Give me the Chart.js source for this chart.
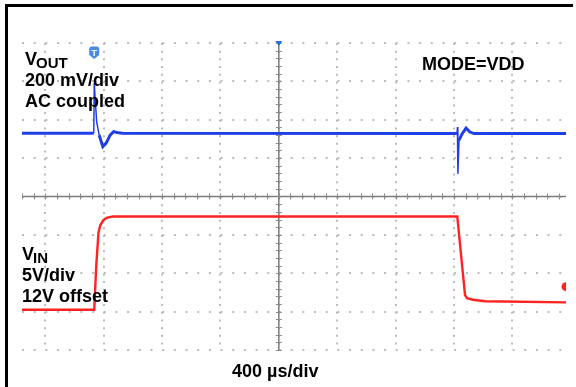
<!DOCTYPE html>
<html>
<head>
<meta charset="utf-8">
<script src="https://cdn.jsdelivr.net/npm/chart.js@4"></script>
<style>
  html, body { margin: 0; padding: 0; background: #fff; }
  #wrap { width: 576px; height: 387px; }
</style>
</head>
<body>
<div id="wrap"><canvas id="scope" width="576" height="387"></canvas></div>
<script>
// Scope settings
const timePerDiv = 400;       // µs/div
const voutPerDiv = 200;       // mV/div (AC coupled)
const voutPosition = 1.65;    // div, where VOUT's 0 mV sits
const vinPerDiv = 5;          // V/div
const vinOffset = 12;         // V at the channel marker
const vinPosition = -2.35;    // div, where 12 V sits
const triggerTime = -1265;    // µs
const timeMin = -1760;
const timeMax = 1968;

const xTicks = [-1600, -1200, -800, -400, 0, 400, 800, 1200, 1600];
const yTicks = [-4, -3, -2, -1, 0, 1, 2, 3, 4];

// VOUT, deviation in mV
const voutTime = [-1760, -1268, -1265, -1258, -1248, -1231, -1206, -1183, -1156, -1132, -1108, -1073,
                  1221, 1224, 1227, 1235, 1256, 1283, 1310, 1338, 1968];
const voutMv = [0, 0, 262, 170, 58, -10, -70, -52, -10, 8, 4, 0,
                -2, 32, -212, -36, -4, 26, 6, -2, -2];

// VIN in volts
const vinTime = [-1760, -1265, -1251, -1236, -1224, -1201, -1176, -1135,
                 1223, 1276, 1290, 1331, 1413, 1968];
const vinVolts = [9.0, 9.0, 14.8, 19.0, 20.0, 20.7, 21.0, 21.15,
                  21.15, 10.9, 10.5, 10.3, 10.1, 9.95];

const labels = {
    vout: ['V', 'OUT', '200 mV/div', 'AC coupled'],
    vin: ['V', 'IN', '5V/div', '12V offset'],
    mode: 'MODE=VDD',
    time: timePerDiv + ' µs/div'
};

const voutPoints = voutTime.map((t, i) => ({ x: t, y: voutPosition + voutMv[i] / voutPerDiv }));
const vinPoints = vinTime.map((t, i) => ({ x: t, y: vinPosition + (vinVolts[i] - vinOffset) / vinPerDiv }));

// center cross with minor ticks, markers, frame and text
const scopeDecor = {
    id: 'scopeDecor',
    beforeDatasetsDraw(chart) {
        const { ctx, chartArea: a, scales: { x, y } } = chart;
        const cx = x.getPixelForValue(0);
        const cy = y.getPixelForValue(0);
        ctx.save();
        ctx.strokeStyle = '#7c7c7c';
        ctx.lineWidth = 1.5;
        ctx.beginPath();
        ctx.moveTo(a.left, cy);
        ctx.lineTo(a.right, cy);
        ctx.moveTo(cx, a.top);
        ctx.lineTo(cx, a.bottom);
        ctx.stroke();
        ctx.lineWidth = 1;
        ctx.strokeStyle = '#8c8c8c';
        ctx.beginPath();
        const xStep = timePerDiv / 5;
        for (let t = Math.ceil(timeMin / xStep) * xStep; t <= timeMax; t += xStep) {
            const px = Math.round(x.getPixelForValue(t)) + 0.5;
            ctx.moveTo(px, cy - 3);
            ctx.lineTo(px, cy + 3);
        }
        for (let v = -4; v <= 4.001; v += 0.2) {
            const py = Math.round(y.getPixelForValue(v)) + 0.5;
            ctx.moveTo(cx - 3, py);
            ctx.lineTo(cx + 3, py);
        }
        ctx.stroke();
        ctx.restore();
    },
    afterDraw(chart) {
        const { ctx, chartArea: a, scales: { x } } = chart;
        ctx.save();
        // frame
        ctx.strokeStyle = '#000';
        ctx.lineWidth = 3;
        ctx.beginPath();
        ctx.moveTo(6.5, 387);
        ctx.lineTo(6.5, 5.5);
        ctx.lineTo(573, 5.5);
        ctx.stroke();

        // trigger position marker
        const cx = x.getPixelForValue(0);
        ctx.fillStyle = '#1e6ee0';
        ctx.beginPath();
        ctx.moveTo(cx - 3.5, a.top - 2);
        ctx.lineTo(cx + 3.5, a.top - 2);
        ctx.lineTo(cx, a.top + 3);
        ctx.closePath();
        ctx.fill();

        // trigger level "T" marker
        const tx = x.getPixelForValue(triggerTime);
        ctx.fillStyle = '#4a8ae6';
        ctx.beginPath();
        ctx.moveTo(tx - 5, 49);
        ctx.quadraticCurveTo(tx - 5, 46.5, tx - 2.5, 46.5);
        ctx.lineTo(tx + 2.5, 46.5);
        ctx.quadraticCurveTo(tx + 5, 46.5, tx + 5, 49);
        ctx.lineTo(tx + 5, 55);
        ctx.lineTo(tx, 59);
        ctx.lineTo(tx - 5, 55);
        ctx.closePath();
        ctx.fill();
        ctx.fillStyle = '#fff';
        ctx.font = 'bold 9px "Liberation Sans", Arial, sans-serif';
        ctx.textAlign = 'center';
        ctx.textBaseline = 'alphabetic';
        ctx.fillText('T', tx, 55.5);

        // text
        ctx.fillStyle = '#000';
        ctx.textAlign = 'left';
        const big = 'bold 18px "Liberation Sans", Arial, sans-serif';
        const sub = 'bold 15px "Liberation Sans", Arial, sans-serif';
        ctx.font = big;
        ctx.fillText(labels.vout[0], 25, 64.5);
        const vw = ctx.measureText(labels.vout[0]).width;
        ctx.fillText(labels.vout[2], 25, 86);
        ctx.fillText(labels.vout[3], 25, 107);
        ctx.fillText(labels.mode, 422, 69.5);
        ctx.fillText(labels.vin[0], 22, 260);
        ctx.fillText(labels.vin[2], 22, 281);
        ctx.fillText(labels.vin[3], 22, 302);
        ctx.fillText(labels.time, 232, 377);
        ctx.font = sub;
        ctx.fillText(labels.vout[1], 25 + vw - 1, 67.5);
        ctx.fillText(labels.vin[1], 22 + vw - 1, 263);
        ctx.restore();
    }
};

const ctx = document.getElementById('scope').getContext('2d');
const chart = new Chart(ctx, {
    type: 'line',
    data: {
        datasets: [
            {
                label: 'VOUT',
                data: voutPoints,
                borderColor: '#1f3fe6',
                borderWidth: 3,
                pointRadius: 0,
                tension: 0,
                segment: {
                    borderWidth: c => (c.p1.parsed.x - c.p0.parsed.x < 20 ? 1.5 : 3)
                }
            },
            {
                label: 'VIN',
                data: vinPoints,
                borderColor: '#ff2222',
                borderWidth: 2.4,
                pointRadius: 0,
                tension: 0
            },
            {
                label: 'VIN marker',
                data: [{ x: timeMax, y: vinPosition }],
                showLine: false,
                pointRadius: 4.5,
                pointStyle: 'circle',
                backgroundColor: '#ff2222',
                borderColor: '#ff2222',
                borderWidth: 0,
                clip: 0
            }
        ]
    },
    options: {
        responsive: false,
        animation: false,
        layout: { padding: { left: 22, right: 10, top: 43, bottom: 37 } },
        plugins: {
            legend: { display: false },
            tooltip: { enabled: false }
        },
        scales: {
            x: {
                type: 'linear',
                min: timeMin,
                max: timeMax,
                afterBuildTicks: s => { s.ticks = xTicks.map(v => ({ value: v })); },
                ticks: { display: false },
                grid: { color: '#bcbcbc', lineWidth: 2, drawTicks: false },
                border: { display: false, dash: [2, 5.68] }
            },
            y: {
                type: 'linear',
                min: -4,
                max: 4,
                afterBuildTicks: s => { s.ticks = yTicks.map(v => ({ value: v })); },
                ticks: { display: false },
                grid: { color: '#bcbcbc', lineWidth: 2, drawTicks: false },
                border: { display: false, dash: [2, 9.68] }
            }
        }
    },
    plugins: [scopeDecor]
});
</script>
</body>
</html>
